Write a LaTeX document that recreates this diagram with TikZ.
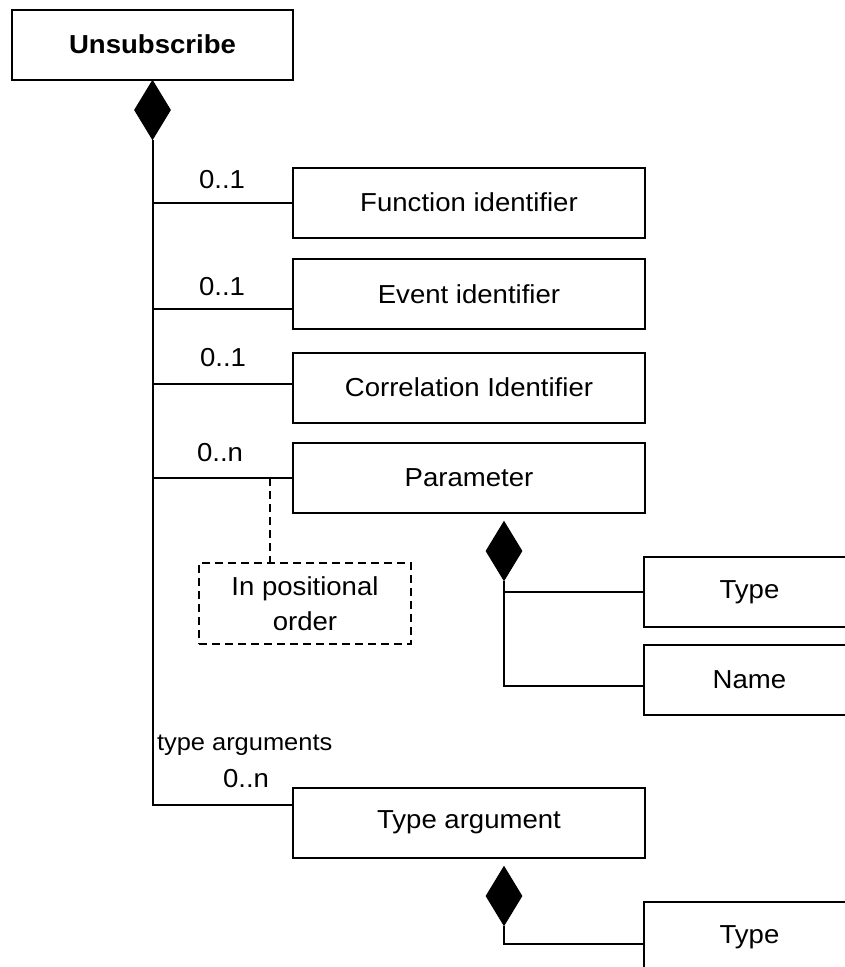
\documentclass[tikz,border=0pt]{standalone}
\usepackage{fontspec}
\setmainfont{Liberation Sans}[FakeStretch=1.06]
\usetikzlibrary{calc}
\usetikzlibrary{shapes.geometric}
\begin{document}
\begin{tikzpicture}[x=1pt,y=-1pt,line width=2pt,
			font=\fontsize{26}{35}\selectfont]
			\tikzstyle{block}=[draw,rectangle,minimum width=352pt,minimum height=70pt,inner sep=0pt]
			\tikzstyle{leaf}=[block,minimum width=211pt]
			\tikzstyle{comp}=[draw,fill=black,diamond,minimum width=36pt,minimum height=59pt,inner sep=0pt,line width=1pt]
			\tikzstyle{dash8}=[dash pattern=on 8pt off 5pt]
			\tikzstyle{note}=[draw,dash8,align=center,minimum width=212pt,minimum height=81pt,inner sep=0pt]
			\tikzstyle{mult}=[inner sep=0pt]
			\useasboundingbox (0,0) rectangle (845,967);
			
			\node[block,minimum width=281pt] (unsub)   at (152.5,44.5) {\textbf{Unsubscribe}};
			\node[comp]          (dia1)    at (152.5,110)  {};
			\node[block]         (funcid)  at (469,202.5)  {Function identifier};
			\node[block]         (event)   at (469,294)    {Event identifier};
			\node[block]         (corr)    at (469,387.5)  {Correlation Identifier};
			\node[block]         (param)   at (469,478)    {Parameter};
			\node[block]         (typearg) at (469,822.5)  {Type argument};
			\node[note]          (order)   at (305,603.5)  {In positional\\order};
			\node[comp]          (dia2)    at (504,551)    {};
			\node[leaf]          (ptype)   at (749.5,592)  {Type};
			\node[leaf]          (pname)   at (749.5,680)  {Name};
			\node[comp]          (dia3)    at (504,896)    {};
			\node[leaf]          (ttype)   at (749.5,937)  {Type};
			\coordinate          (tick)    at (270,478);
			
			% multiplicities
			\node[mult] (m1) at (222,180) {0..1};
			\node[mult] (m2) at (222,287) {0..1};
			\node[mult] (m3) at (223,358) {0..1};
			\node[mult] (m4) at (220,453) {0..n};
			\node[mult,anchor=west,font=\fontsize{24}{28}\selectfont] (role) at (156,745) {type arguments};
			\node[mult] (m5) at (246,779) {0..n};
			
			\draw (dia1.south) |- (funcid.west);
			\draw (dia1.south) |- ([yshift=-15pt]event.west);
			\draw (dia1.south) |- ([yshift=3.5pt]corr.west);
			\draw (dia1.south) |- (param.west);
			\draw (dia1.south) |- ([yshift=17.5pt]typearg.west);
			\draw[dash8] (tick) -- (tick |- order.north);
			\draw (dia2.south) |- (ptype.west);
			\draw (dia2.south) |- ([yshift=-6pt]pname.west);
			\draw (dia3.south) |- ([yshift=-7pt]ttype.west);
			
			;
			\end{tikzpicture}
\end{document}
